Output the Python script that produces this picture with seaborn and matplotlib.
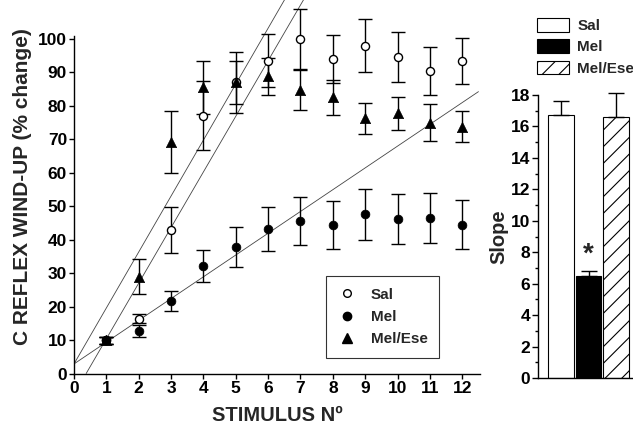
import numpy as np
import pandas as pd
import matplotlib
matplotlib.use('Agg')
import matplotlib.pyplot as plt
from matplotlib.lines import Line2D
from matplotlib.patches import Patch
import seaborn as sns

# ---- data ----
stimulus = [1, 2, 3, 4, 5, 6, 7, 8, 9, 10, 11, 12]

sal_mean = [10, 16.5, 43, 77, 87, 93.5, 100, 94, 98, 94.7, 90.5, 93.4]
sal_err = [1.0, 1.3, 6.8, 10.3, 9.0, 8.0, 9.0, 7.2, 8.0, 7.5, 7.2, 6.8]

mel_mean = [10, 12.7, 21.8, 32.2, 37.9, 43.2, 45.7, 44.5, 47.7, 46.3, 46.6, 44.5]
mel_err = [1.0, 1.8, 3.0, 4.8, 6.0, 6.6, 7.2, 7.2, 7.6, 7.4, 7.4, 7.3]

ese_mean = [10, 29, 69.3, 85.5, 87, 88.8, 84.8, 82.6, 76.3, 77.8, 75, 73.8]
ese_err = [1.0, 5.2, 9.2, 8.0, 6.5, 5.5, 6.0, 5.2, 4.6, 5.0, 5.5, 4.6]

# regression lines (slope, intercept) drawn on the left panel
fit_slopes = [16.7, 16.6, 6.5]
fit_intercepts = [3.0, -6.1, 3.0]

groups = ['Sal', 'Mel', 'Mel/Ese']
slope_mean = [16.75, 6.5, 16.6]
slope_err = [0.9, 0.3, 1.5]

sns.set_style('ticks')
plt.rcParams['font.family'] = ['Liberation Sans', 'DejaVu Sans']
plt.rcParams['font.weight'] = 'bold'
plt.rcParams['axes.labelweight'] = 'bold'
plt.rcParams['hatch.linewidth'] = 0.8

fig = plt.figure(figsize=(6.33, 4.32), dpi=100)

# ---- left panel: wind-up curves ----
ax = fig.add_axes([0.1169, 0.1343, 0.6415, 0.8657])

x_line = np.linspace(0, 12.5, 200)
for m, b in zip(fit_slopes, fit_intercepts):
    y_line = m * x_line + b
    keep = y_line >= 0
    ax.plot(x_line[keep], y_line[keep], color='#444444', lw=0.6, zorder=1)

for mean, err in [(sal_mean, sal_err), (mel_mean, mel_err), (ese_mean, ese_err)]:
    ax.errorbar(stimulus, mean, yerr=err, fmt='none', ecolor='black',
                elinewidth=1, capsize=4.7, capthick=1, zorder=2, clip_on=False)

df = pd.DataFrame({
    'stimulus': stimulus * 3,
    'value': sal_mean + mel_mean + ese_mean,
    'group': ['Sal'] * 12 + ['Mel'] * 12 + ['Mel/Ese'] * 12,
})
sns.scatterplot(data=df[df.group == 'Sal'], x='stimulus', y='value', ax=ax,
                marker='o', color='white', edgecolor='black', linewidth=1,
                s=34, zorder=3, clip_on=False)
sns.scatterplot(data=df[df.group == 'Mel'], x='stimulus', y='value', ax=ax,
                marker='o', color='black', edgecolor='black', linewidth=0.5,
                s=40, zorder=3)
sns.scatterplot(data=df[df.group == 'Mel/Ese'], x='stimulus', y='value', ax=ax,
                marker='^', color='black', edgecolor='black', linewidth=0.5,
                s=55, zorder=3)

ax.set_xlim(0, 12.55)
ax.set_ylim(0, 111.6)
ax.set_xticks(range(0, 13))
ax.set_yticks(range(0, 101, 10))
ax.spines['top'].set_visible(False)
ax.spines['right'].set_visible(False)
ax.spines['left'].set_bounds(0, 101)
for s in ['left', 'bottom']:
    ax.spines[s].set_linewidth(1)
    ax.spines[s].set_color('black')
ax.tick_params(direction='out', length=3.5, width=1, labelsize=12.5, pad=1.5,
               colors='black')
for lab in ax.get_xticklabels() + ax.get_yticklabels():
    lab.set_fontweight('bold')
ax.set_xlabel('STIMULUS Nº', fontsize=14.5, labelpad=7)
ax.set_ylabel('C REFLEX WIND-UP (% change)', fontsize=15, labelpad=4)

handles = [
    Line2D([], [], marker='o', ls='none', mfc='white', mec='black', ms=5.5, mew=1),
    Line2D([], [], marker='o', ls='none', mfc='black', mec='black', ms=6),
    Line2D([], [], marker='^', ls='none', mfc='black', mec='black', ms=7),
]
leg = ax.legend(handles, groups, loc='upper left',
                bbox_to_anchor=(0.515, 0.361), bbox_transform=fig.transFigure,
                frameon=True, fancybox=False, edgecolor='black',
                prop={'weight': 'bold', 'size': 11}, borderpad=0.75,
                labelspacing=0.55, handlelength=1.2, handletextpad=1.0,
                borderaxespad=0)
leg.get_frame().set_linewidth(0.8)

# ---- right panel: slopes ----
bx = fig.add_axes([0.85, 0.125, 0.2, 0.655])
sdf = pd.DataFrame({'group': groups, 'slope': slope_mean})
sns.barplot(data=sdf, x='group', y='slope', hue='group',
            palette={'Sal': 'white', 'Mel': 'black', 'Mel/Ese': 'white'},
            edgecolor='black', linewidth=0.8, width=0.93, legend=False, ax=bx)
bx.patches[2].set_hatch('//')
bx.errorbar(range(3), slope_mean, yerr=[[0, 0, 0], slope_err], fmt='none',
            ecolor='black', elinewidth=1, capsize=6, capthick=1, clip_on=False)
bx.text(1, 7.0, '*', ha='center', va='bottom', fontsize=20, fontweight='bold')

bx.set_xlim(-0.84, 3.76)
bx.set_ylim(0, 18)
bx.set_xticks([])
bx.set_yticks(range(0, 19, 2))
bx.set_yticks(range(1, 18, 2), minor=True)
bx.spines['top'].set_visible(False)
bx.spines['right'].set_visible(False)
for s in ['left', 'bottom']:
    bx.spines[s].set_linewidth(1)
    bx.spines[s].set_color('black')
bx.tick_params(axis='y', which='major', direction='out', length=4, width=1,
               labelsize=12.5, pad=1.5, colors='black')
bx.tick_params(axis='y', which='minor', direction='out', length=2.5, width=1,
               colors='black')
for lab in bx.get_yticklabels():
    lab.set_fontweight('bold')
bx.set_xlabel('')
bx.set_ylabel('Slope', fontsize=14.5, labelpad=2)

bar_handles = [
    Patch(facecolor='white', edgecolor='black', lw=0.8),
    Patch(facecolor='black', edgecolor='black', lw=0.8),
    Patch(facecolor='white', edgecolor='black', lw=0.8, hatch='//'),
]
fig.legend(bar_handles, groups, loc='upper left',
           bbox_to_anchor=(0.848, 0.958), frameon=False,
           prop={'weight': 'bold', 'size': 11}, handlelength=2.1,
           handleheight=1.0, borderpad=0, borderaxespad=0,
           labelspacing=0.4, handletextpad=0.55)

fig.savefig('out.png', dpi=100)
